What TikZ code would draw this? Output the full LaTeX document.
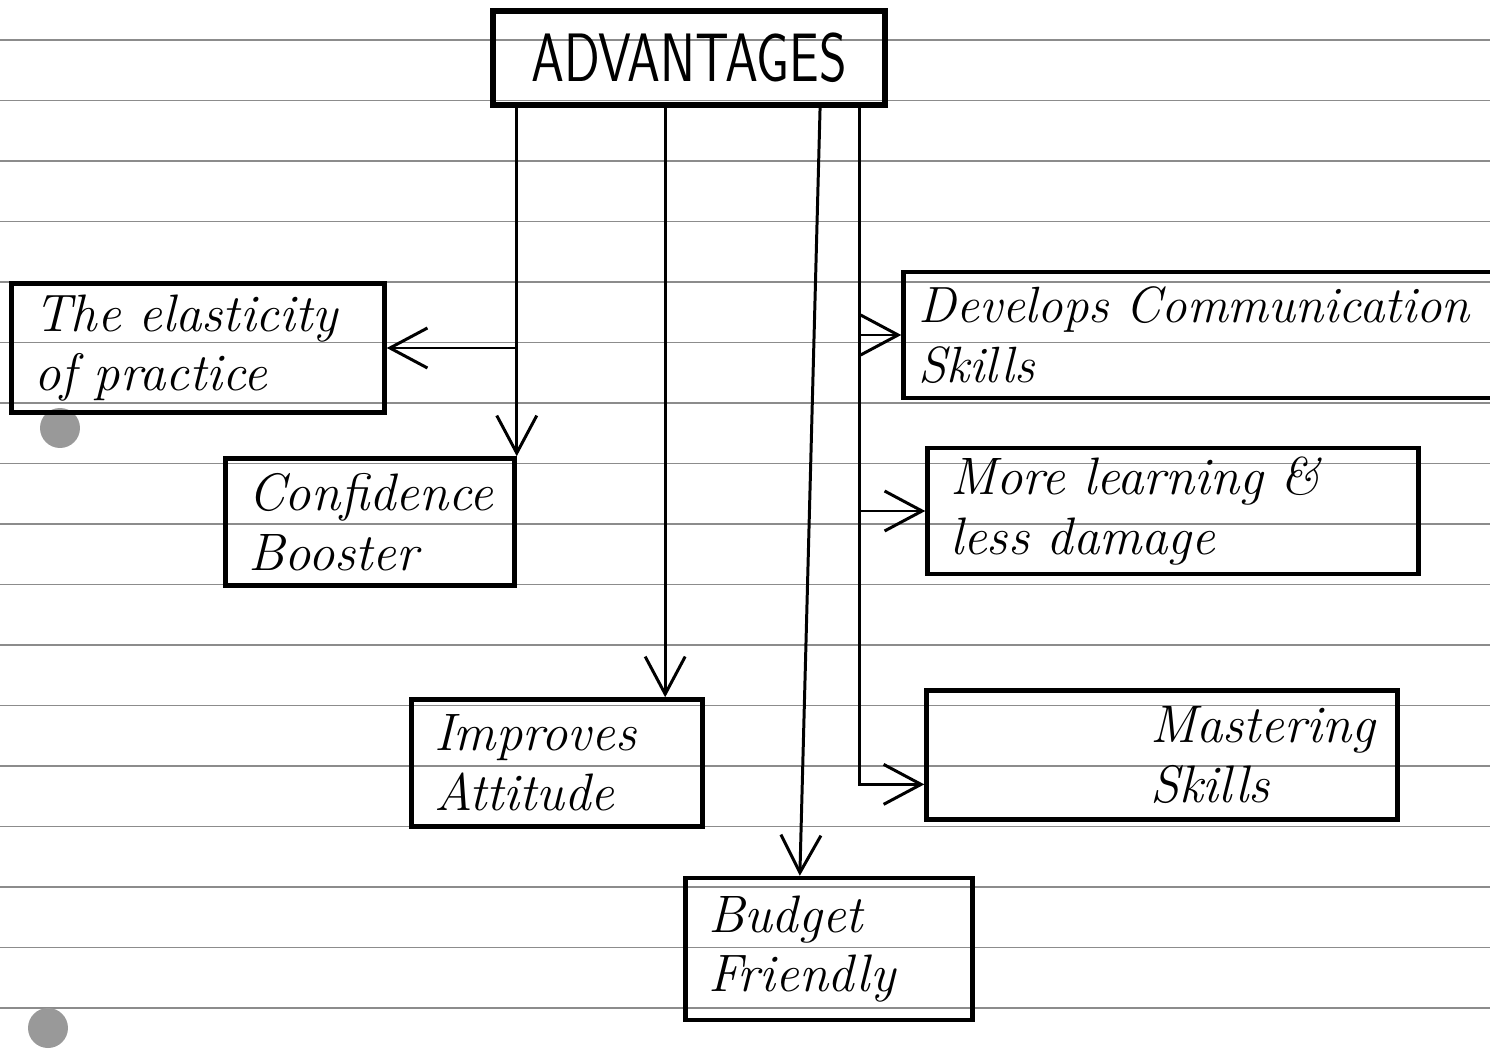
\documentclass[tikz,border=0pt]{standalone}
\usepackage{tikz}
\usetikzlibrary{calc,arrows.meta,positioning}
\tikzset{
myBox/.style={
	rectangle,draw=black,line width=2.6pt,
	inner xsep=0.45cm,inner ysep=0pt,minimum height=2.54cm,
	align=left,text=black,
	font=\fontsize{30}{34}\selectfont\itshape
}
, myHead/.style={
	rectangle,draw=black,line width=3pt,
	inner sep=0pt,minimum width=7.84cm,minimum height=1.88cm,
	font=\fontsize{30}{34}\selectfont\sffamily
}
% link
, myLink/.style={-{Straight Barb[length=7.5mm,width=8mm]},line width=1.7pt}
% paper
, myRule/.style={black!45,line width=0.9pt}
, myHole/.style={fill=black!40}
}

\begin{document}
\begin{tikzpicture}[x=0.02cm,y=-0.02cm]
	\useasboundingbox (0,0) rectangle (1490,1050);
	% ruled paper
	\foreach \k in {0,...,16}
		\draw[myRule] (0,{40+60.5*\k}) -- (1490,{40+60.5*\k});
	\fill[myHole] (60,428) circle (0.4cm);
	\fill[myHole] (48,1028) circle (0.4cm);

	% nodes
	\node[myHead] (adv) at (689,58) {\scalebox{1}[1.3]{ADVANTAGES}};

	\node[myBox,text width=6.56cm,minimum height=2.58cm] (elastic) at (198,348) {The elasticity\\ of practice};
	\node[myBox,text width=4.88cm] (confid) at (370,522) {Confidence\\ Booster};
	\node[myBox,text width=4.92cm] (improv) at (557,763) {Improves\\ Attitude};
	\node[myBox,text width=4.84cm,minimum height=2.84cm] (budget) at (829,949) {Budget\\ Friendly};

	\node[myBox,text width=12.1cm,inner xsep=0.3cm,minimum height=2.52cm,font=\fontsize{29}{34}\selectfont\itshape] (develop) at (1221,335) {Develops Communication\\ Skills};
	\node[myBox,text width=8.92cm,minimum height=2.52cm] (morelearn) at (1173,511) {More learning \&\\ less damage};
	\node[myBox,text width=8.52cm,minimum height=2.58cm,align=right] (master) at (1162,755) {Mastering\\ Skills\hspace*{2.1cm}};

	% links
	\draw[myLink] (confid.north east |- adv.south) -- (confid.north east);
	\draw[myLink] (confid.north east |- elastic.east) -- (elastic.east);

	\draw[myLink] ($(adv.south west)!0.44!(adv.south east)$) coordinate (a2) -- (a2 |- improv.north);

	\draw[myLink] ($(adv.south west)!0.83!(adv.south east)$) -- ($(budget.north west)!0.4!(budget.north east)$);

	\draw[myLink] ($(adv.south west)!0.93!(adv.south east)$) coordinate (a4) |- ($(master.north west)!0.72!(master.south west)$);
	\draw[myLink] (a4 |- develop.west) -- (develop.west);
	\draw[myLink] (a4 |- morelearn.west) -- (morelearn.west);
\end{tikzpicture}
\end{document}
